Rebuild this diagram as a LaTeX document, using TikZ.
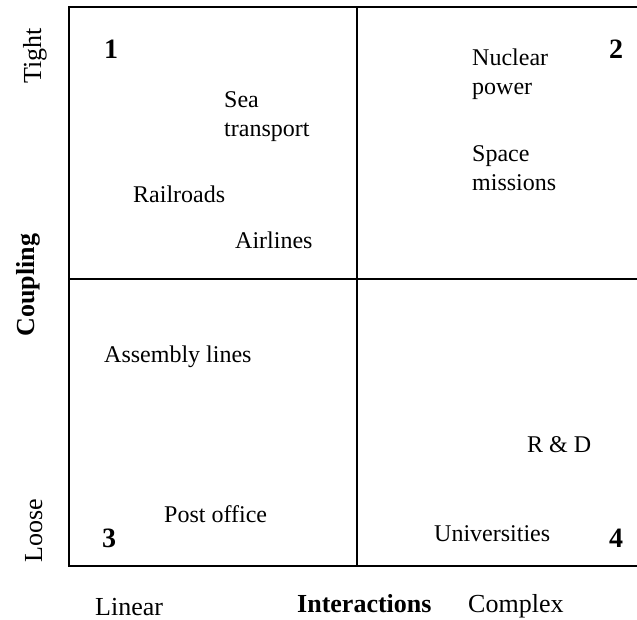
\documentclass[tikz,border=0pt]{standalone}
\usepackage{fontspec}
\setmainfont{Liberation Serif}
\usetikzlibrary{positioning}

\tikzset{
  item/.style={anchor=base west, inner sep=0pt, align=left,
    font=\fontsize{24}{29}\selectfont},
  quadnum/.style={anchor=base west, inner sep=0pt,
    font=\fontsize{28}{30}\selectfont\bfseries},
  axislabel/.style={inner sep=0pt, font=\fontsize{26}{28}\selectfont},
  frameline/.style={line width=2.6pt},
  divider/.style={line width=2pt}
}

\begin{document}
\begin{tikzpicture}[x=1pt,y=-1pt]
\useasboundingbox (0,0) rectangle (637,619);
% frame and quadrants
\coordinate (tl) at (69,7);
\coordinate (tr) at (637,7);
\coordinate (bl) at (69,566);
\coordinate (br) at (637,566);
\coordinate (mt) at (357,7);
\coordinate (mb) at (357,566);
\coordinate (ml) at (69,279);
\coordinate (mr) at (637,279);
\draw[frameline] (tr) -- (tl) -- (bl) -- (br);
\draw[divider] (mt) -- (mb);
\draw[divider] (ml) -- (mr);

% quadrant numbers
\node[quadnum] (n1) at (104,58) {1};
\node[quadnum] (n2) at (609,58) {2};
\node[quadnum] (n3) at (102,547) {3};
\node[quadnum] (n4) at (609,547) {4};

% systems (two-line nodes sit on their last line)
\node[item] (sea)      at (224,136) {Sea\\transport};
\node[item] (rail)     at (133,202) {Railroads};
\node[item] (air)      at (235,248) {Airlines};
\node[item] (nuclear)  at (472,94)  {Nuclear\\power};
\node[item] (space)    at (472,190) {Space\\missions};
\node[item] (assembly) at (104,362) {Assembly lines};
\node[item] (post)     at (164,522) {Post office};
\node[item] (rd)       at (527,452) {R \& D};
\node[item] (univ)     at (434,541) {Universities};

% axes
\node[axislabel, anchor=base west, rotate=90] (tight) at (41,84) {Tight};
\node[axislabel, anchor=base west, rotate=90] (loose) at (42,563) {Loose};
\node[axislabel, anchor=base, rotate=90, font=\fontsize{26}{28}\selectfont\bfseries]
  (coupling) at (34,285) {Coupling};
\node[axislabel, anchor=base west] (linear) at (95,615) {Linear};
\node[axislabel, anchor=base west, font=\fontsize{26}{28}\selectfont\bfseries]
  (interact) at (297,612) {Interactions};
\node[axislabel, anchor=base west] (complex) at (468,612) {Complex};
\end{tikzpicture}
\end{document}
